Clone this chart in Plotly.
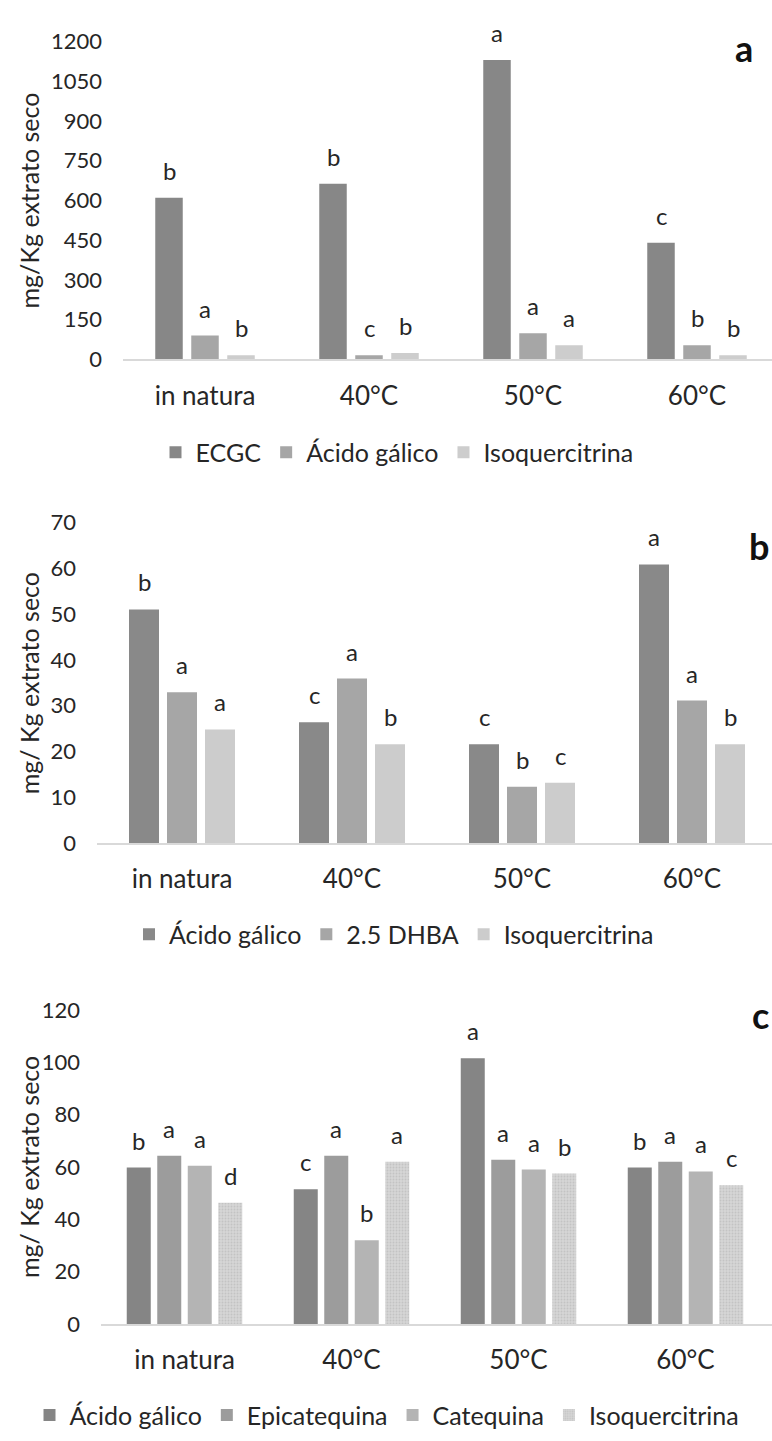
import plotly.graph_objects as go

# ---------------- data ----------------
categories = ["in natura", "40°C", "50°C", "60°C"]

# panel a  (mg/Kg extrato seco)
a_names = ["ECGC", "Ácido gálico", "Isoquercitrina"]
a_ecgc = [610, 663, 1130, 440]
a_gallic = [90, 16, 99, 53]
a_isoq = [16, 24, 53, 16]
a_ecgc_sig = ["b", "b", "a", "c"]
a_gallic_sig = ["a", "c", "a", "b"]
a_isoq_sig = ["b", "b", "a", "b"]
a_ticks = [0, 150, 300, 450, 600, 750, 900, 1050, 1200]

# panel b
b_names = ["Ácido gálico", "2.5 DHBA", "Isoquercitrina"]
b_gallic = [51.0, 26.4, 21.6, 60.8]
b_dhba = [32.9, 35.9, 12.3, 31.1]
b_isoq = [24.8, 21.6, 13.2, 21.6]
b_gallic_sig = ["b", "c", "c", "a"]
b_dhba_sig = ["a", "a", "b", "a"]
b_isoq_sig = ["a", "b", "c", "b"]
b_ticks = [0, 10, 20, 30, 40, 50, 60, 70]

# panel c
c_names = ["Ácido gálico", "Epicatequina", "Catequina", "Isoquercitrina"]
c_gallic = [59.8, 51.5, 101.6, 59.8]
c_epi = [64.3, 64.3, 62.8, 62.0]
c_cat = [60.5, 32.0, 59.0, 58.3]
c_isoq = [46.3, 62.0, 57.5, 53.0]
c_gallic_sig = ["b", "c", "a", "b"]
c_epi_sig = ["a", "a", "a", "a"]
c_cat_sig = ["a", "b", "a", "a"]
c_isoq_sig = ["d", "a", "b", "c"]
c_ticks = [0, 20, 40, 60, 80, 100, 120]

# ---------------- styling ----------------
W, H = 772, 1441
FONT = "Lato, Carlito, Calibri, sans-serif"
TXT = "#262626"
AXIS_LINE = "#d9d9d9"


def py(px):
    """pixel row (from top) -> paper fraction"""
    return (H - px) / H


def px_x(px):
    return px / W


panels = [
    dict(key="", leg="legend", x0=123, cat_px=164, bar_px=27.5, gap_px=8.5,
         top=28, base=352, ymax=1200, ticks=a_ticks,
         title="mg/Kg extrato seco", title_y=190, letter="a", letter_xy=(744, 35),
         legend_y=447, legend_x=397,
         series=[(a_names[0], a_ecgc, a_ecgc_sig, "#878787", None),
                 (a_names[1], a_gallic, a_gallic_sig, "#a6a6a6", None),
                 (a_names[2], a_isoq, a_isoq_sig, "#cdcdcd", None)]),
    dict(key="2", leg="legend2", x0=97, cat_px=170, bar_px=30, gap_px=8,
         top=518, base=845, ymax=70, ticks=b_ticks,
         title="mg/ Kg extrato seco", title_y=682, letter="b", letter_xy=(759, 542),
         legend_y=938, legend_x=394,
         series=[(b_names[0], b_gallic, b_gallic_sig, "#898989", None),
                 (b_names[1], b_dhba, b_dhba_sig, "#a6a6a6", None),
                 (b_names[2], b_isoq, b_isoq_sig, "#cccccc", None)]),
    dict(key="3", leg="legend3", x0=101, cat_px=167, bar_px=24, gap_px=6.5,
         top=1015, base=1335, ymax=120, ticks=c_ticks,
         title="mg/ Kg extrato seco", title_y=1175, letter="c", letter_xy=(760, 1020),
         legend_y=1428, legend_x=387,
         series=[(c_names[0], c_gallic, c_gallic_sig, "#858585", None),
                 (c_names[1], c_epi, c_epi_sig, "#9c9c9c", None),
                 (c_names[2], c_cat, c_cat_sig, "#b4b4b4", None),
                 (c_names[3], c_isoq, c_isoq_sig, "#d6d6d6", "dots")]),
]

fig = go.Figure()
annotations = []
layout = {}

for p in panels:
    xa = "x" + p["key"]
    ya = "y" + p["key"]
    n = len(p["series"])
    slot = (p["bar_px"] + p["gap_px"]) / p["cat_px"]
    bw = p["bar_px"] / p["cat_px"]
    for j, (name, vals, sig, color, patt) in enumerate(p["series"]):
        centre = (j - (n - 1) / 2) * slot
        marker = dict(color=color, line=dict(width=0))
        if patt:
            marker["pattern"] = dict(shape=".", fgcolor="#c3c3c3", bgcolor=color,
                                     size=3, solidity=0.3, fillmode="replace")
        fig.add_trace(go.Bar(
            x=categories, y=vals, name=name, width=bw, offset=centre - bw / 2,
            marker=marker, xaxis=xa, yaxis=ya, legend=p["leg"],
            hoverinfo="x+y+name",
        ))
        for i, (v, s) in enumerate(zip(vals, sig)):
            annotations.append(dict(
                x=i + centre, y=v, xref=xa, yref=ya, text=s, showarrow=False,
                yanchor="bottom", yshift=11,
                font=dict(family=FONT, size=24, color=TXT),
            ))

    vis_cats = (W - p["x0"]) / p["cat_px"]
    sfx = p["key"]
    layout["xaxis" + sfx] = dict(
        domain=[px_x(p["x0"]), 1], range=[-0.5, -0.5 + vis_cats],
        anchor=ya, type="category", showline=True, linecolor=AXIS_LINE,
        linewidth=2, ticks="", showgrid=False, zeroline=False,
        tickfont=dict(family=FONT, size=26, color=TXT),
        ticklabelstandoff=12, fixedrange=True,
    )
    layout["yaxis" + sfx] = dict(
        domain=[py(p["base"]), py(p["top"])], range=[0, p["ymax"]],
        anchor=xa, tickvals=p["ticks"], showgrid=False, zeroline=False,
        showline=False, ticks="",
        tickfont=dict(family=FONT, size=22, color=TXT),
        ticklabelstandoff=20, fixedrange=True,
    )
    layout[p["leg"]] = dict(
        orientation="h", x=px_x(p["legend_x"]), xanchor="center",
        y=py(p["legend_y"]), yanchor="middle",
        font=dict(family=FONT, size=25, color=TXT),
        bgcolor="rgba(0,0,0,0)", itemclick=False, itemdoubleclick=False,
        tracegroupgap=0,
    )
    # vertical axis title
    annotations.append(dict(
        x=px_x(29), y=py(p["title_y"]), xref="paper", yref="paper",
        text=p["title"], textangle=-90, showarrow=False,
        xanchor="center", yanchor="middle",
        font=dict(family=FONT, size=25, color=TXT),
    ))
    # panel letter
    lx, ly = p["letter_xy"]
    annotations.append(dict(
        x=px_x(lx), y=py(ly), xref="paper", yref="paper", text="<b>%s</b>" % p["letter"],
        showarrow=False, xanchor="center", yanchor="middle",
        font=dict(family=FONT, size=36, color="#111111"),
    ))

fig.update_layout(
    width=W, height=H, margin=dict(l=0, r=0, t=0, b=0),
    paper_bgcolor="white", plot_bgcolor="white",
    barmode="overlay", showlegend=True,
    annotations=annotations, **layout,
)

fig.write_html("out.html", config={"displayModeBar": False})
